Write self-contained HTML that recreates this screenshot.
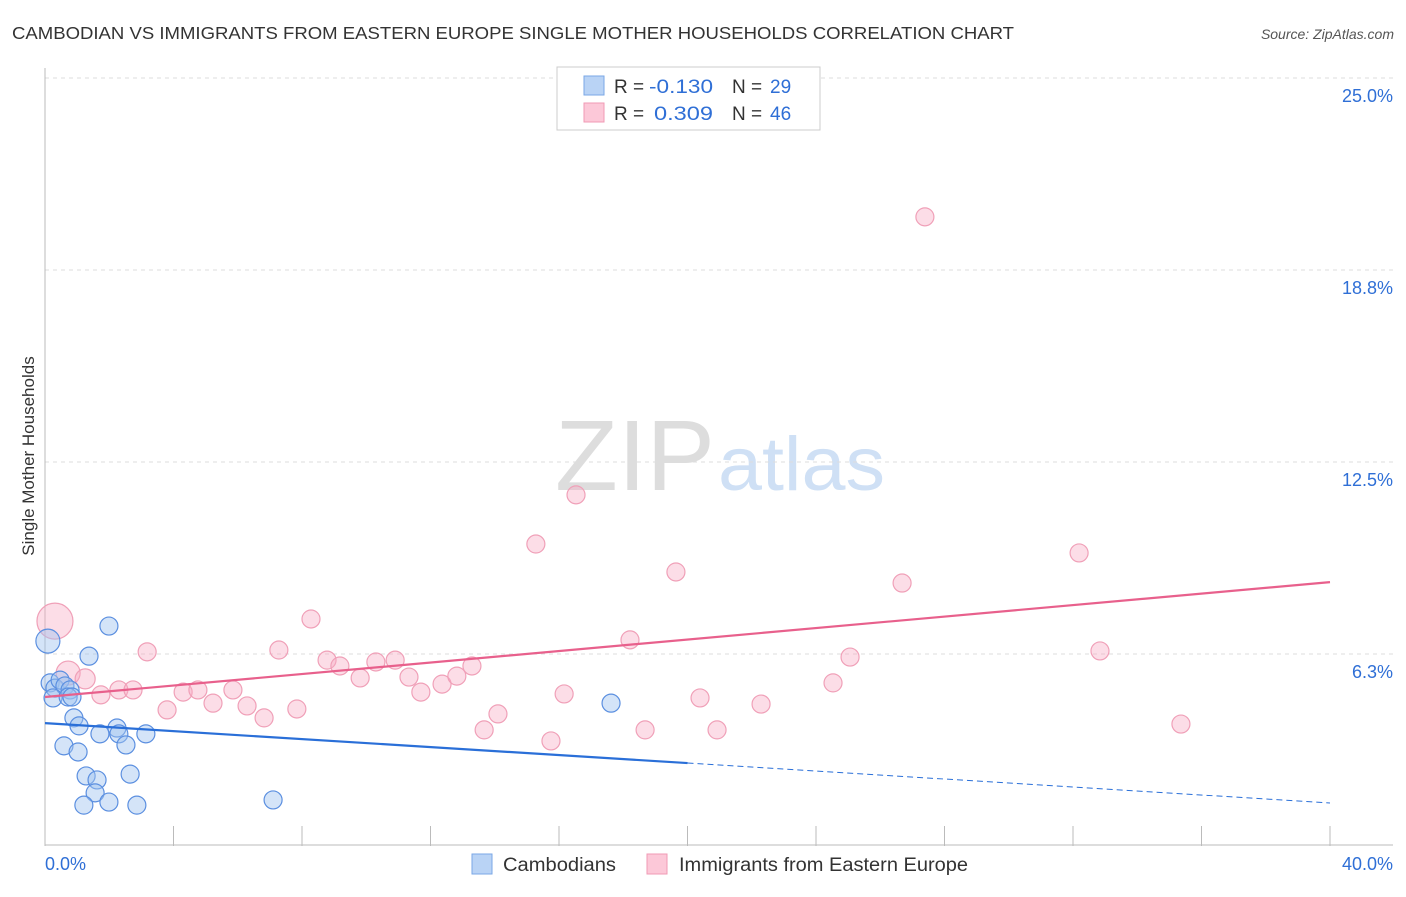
<!DOCTYPE html>
<html><head><meta charset="utf-8"><style>
body{margin:0;background:#fff;font-family:"Liberation Sans",sans-serif}
svg text{font-family:"Liberation Sans",sans-serif}
</style></head><body>
<svg id="chart" width="1406" height="892" xmlns="http://www.w3.org/2000/svg">
<text x="12" y="39" font-size="17.5" fill="#333" textLength="1002" lengthAdjust="spacingAndGlyphs">CAMBODIAN VS IMMIGRANTS FROM EASTERN EUROPE SINGLE MOTHER HOUSEHOLDS CORRELATION CHART</text>
<text x="1394" y="39" font-size="14" fill="#555" font-style="italic" text-anchor="end">Source: ZipAtlas.com</text>
<text x="34" y="456" font-size="17" fill="#333" text-anchor="middle" transform="rotate(-90 34 456)">Single Mother Households</text>
<g><text x="555" y="490" font-size="100" fill="#ddd" font-family="Liberation Serif" textLength="160" lengthAdjust="spacingAndGlyphs">ZIP</text><text x="718" y="490" font-size="76" fill="#cfe0f5" textLength="167" lengthAdjust="spacingAndGlyphs">atlas</text></g>
<g id="grid"></g><g id="axes"></g><g id="marks"></g>
<g>
<rect x="557" y="67" width="263" height="63" fill="#fff" stroke="#ccc"/>
<rect x="584" y="76" width="20" height="19" fill="#b9d3f5" stroke="#7aa7e6"/>
<rect x="584" y="103" width="20" height="19" fill="#fcc8d8" stroke="#f09ab4"/>
<text x="614" y="93" font-size="19" fill="#333">R = <tspan x="649" fill="#2f6fd6" textLength="64" lengthAdjust="spacingAndGlyphs">-0.130</tspan><tspan x="732">N = </tspan><tspan x="770" fill="#2f6fd6">29</tspan></text>
<text x="614" y="120" font-size="19" fill="#333">R = <tspan x="654" fill="#2f6fd6" textLength="59" lengthAdjust="spacingAndGlyphs">0.309</tspan><tspan x="732">N = </tspan><tspan x="770" fill="#2f6fd6">46</tspan></text>
</g>
<g>
<rect x="472" y="854" width="20" height="20" fill="#b9d3f5" stroke="#7aa7e6"/>
<text x="503" y="871" font-size="19" fill="#333" textLength="113" lengthAdjust="spacingAndGlyphs">Cambodians</text>
<rect x="647" y="854" width="20" height="20" fill="#fcc8d8" stroke="#f09ab4"/>
<text x="679" y="871" font-size="19" fill="#333" textLength="289" lengthAdjust="spacingAndGlyphs">Immigrants from Eastern Europe</text>
</g>
</svg>
<script>
const yTicks=[6.25,12.5,18.75,25];
const yTickLabels=["6.3%","12.5%","18.8%","25.0%"];
const xTicks=[0,4,8,12,16,20,24,28,32,36,40];
const blueX=[0.09,1.99,1.37,0.16,0.31,0.47,0.62,0.78,0.25,0.72,0.84,0.90,1.06,0.59,1.03,1.71,2.24,2.30,2.52,3.14,1.28,1.62,2.65,1.56,1.21,1.99,2.86,7.10,17.62];
const blueY=[6.67,7.16,6.18,5.31,5.14,5.40,5.21,5.08,4.82,4.85,4.85,4.17,3.91,3.26,3.06,3.65,3.84,3.65,3.29,3.65,2.28,2.15,2.34,1.73,1.33,1.43,1.33,1.50,4.65];
const pinkX=[0.31,0.72,1.25,3.18,8.28,7.28,1.74,2.30,2.74,3.80,4.30,4.76,5.23,5.85,6.29,6.82,7.84,8.78,9.18,9.81,10.30,10.90,11.33,11.70,12.36,12.82,13.29,14.10,13.67,15.75,16.16,15.28,16.53,18.21,18.68,19.64,20.39,20.92,22.29,24.53,25.06,26.68,27.39,32.19,32.84,35.36];
const pinkY=[7.32,5.63,5.44,6.32,7.39,6.38,4.92,5.08,5.08,4.43,5.01,5.08,4.65,5.08,4.56,4.17,4.46,6.05,5.86,5.47,5.99,6.05,5.50,5.01,5.27,5.53,5.86,4.30,3.78,3.42,4.95,9.83,11.43,6.71,3.78,8.92,4.82,3.78,4.62,5.31,6.15,8.56,20.48,9.54,6.35,3.97];
const blueTrend=[4.00,1.40];
const pinkTrend=[4.85,8.59];
const NS="http://www.w3.org/2000/svg";
const sx=v=>45+v/40*1285, sy=v=>846-v/25*768;
function mk(t,a,p){const e=document.createElementNS(NS,t);for(const k in a)e.setAttribute(k,a[k]);p.appendChild(e);return e;}
const grid=document.getElementById('grid'),axes=document.getElementById('axes'),marks=document.getElementById('marks');
yTicks.forEach((v,i)=>{
 const l=mk('line',{x1:45,x2:1393,y1:sy(v),y2:sy(v),stroke:'#ddd','stroke-dasharray':'4,4'},grid);
 
 
 const t=mk('text',{x:1393,y:sy(v)+24,'font-size':18,fill:'#2f6fd6','text-anchor':'end'},axes);t.textContent=yTickLabels[i];
 
 
});
mk('line',{x1:45,x2:45,y1:68,y2:846,stroke:'#bbb'},axes);
mk('line',{x1:45,x2:1393,y1:845,y2:845,stroke:'#bbb'},axes);
xTicks.forEach(v=>{const l=mk('line',{x1:sx(v),x2:sx(v),y1:826,y2:846,stroke:'#bbb'},axes);
 
 });
let t=mk('text',{x:45,y:870,'font-size':18,fill:'#2f6fd6'},axes);t.textContent="0.0%";


t=mk('text',{x:1393,y:870,'font-size':18,fill:'#2f6fd6','text-anchor':'end'},axes);t.textContent="40.0%";


pinkX.forEach((x,i)=>{const r=i==0?18:i==1?12:i==2?10:9;
 const c=mk('circle',{cx:sx(x),cy:sy(pinkY[i]),r:r,fill:'rgba(248,170,195,0.4)',stroke:'#f0a0b8','stroke-width':1.2},marks);
 
 });
blueX.forEach((x,i)=>{const r=i==0?12:9;
 const c=mk('circle',{cx:sx(x),cy:sy(blueY[i]),r:r,fill:'rgba(160,195,240,0.45)',stroke:'#5b8fe0','stroke-width':1.2},marks);
 
 });
const bm=blueTrend[0]+(blueTrend[1]-blueTrend[0])*0.5;
let l=mk('line',{x1:sx(0),y1:sy(blueTrend[0]),x2:sx(20),y2:sy(bm),stroke:'#2a6fd8','stroke-width':2.2},marks);


l=mk('line',{x1:sx(20),y1:sy(bm),x2:sx(40),y2:sy(blueTrend[1]),stroke:'#2a6fd8','stroke-width':1,'stroke-dasharray':'6,4'},marks);


l=mk('line',{x1:sx(0),y1:sy(pinkTrend[0]),x2:sx(40),y2:sy(pinkTrend[1]),stroke:'#e8608c','stroke-width':2.2},marks);


</script>
</body></html>
